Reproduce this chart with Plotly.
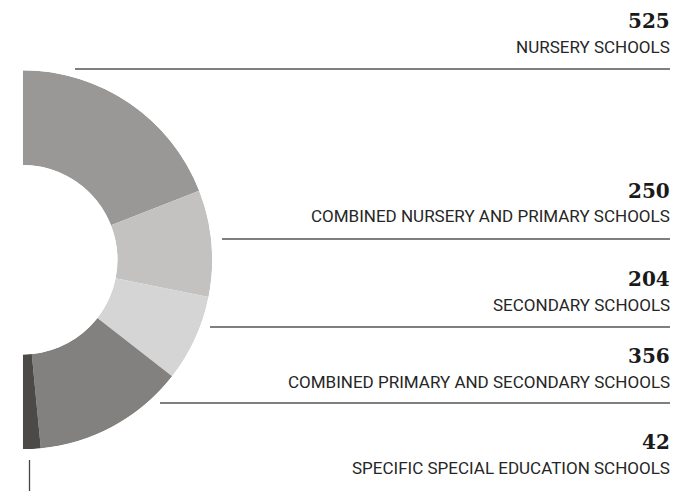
import plotly.graph_objects as go

# school counts by type, ordered clockwise from the top of the half ring
counts = [525, 250, 204, 356, 42]
labels = [
    "NURSERY SCHOOLS",
    "COMBINED NURSERY AND PRIMARY SCHOOLS",
    "SECONDARY SCHOOLS",
    "COMBINED PRIMARY AND SECONDARY SCHOOLS",
    "SPECIFIC SPECIAL EDUCATION SCHOOLS",
]
colors = ["#999896", "#c3c2c0", "#d6d5d6", "#82817f", "#4b4a48"]

W, H = 677, 491

# label layout (pixel positions, top-down)
num_y = [21, 191, 279, 356, 442]
lab_y = [47, 216, 305, 382, 468]
rule_y = [69, 239, 327, 403]
rule_x0 = [75, 222, 210, 160]

total = sum(counts)
widths = [c / total * 180 for c in counts]
centers, acc = [], 0
for w in widths:
    centers.append(acc + w / 2)
    acc += w

fig = go.Figure(go.Barpolar(
    r=[1] * len(counts), theta=centers, width=widths,
    marker=dict(color=colors, line=dict(width=0)),
    hoverinfo='skip', showlegend=False,
))

ann = []
for c, lab, yn, yl in zip(counts, labels, num_y, lab_y):
    ann.append(dict(x=672, y=yn, xref='x', yref='y', xanchor='right', yanchor='middle',
                    text=f'<b>{c}</b>', showarrow=False,
                    font=dict(family='DejaVu Serif', size=20, color='#1a1a1a')))
    ann.append(dict(x=672, y=yl, xref='x', yref='y', xanchor='right', yanchor='middle',
                    text=lab, showarrow=False,
                    font=dict(family='Roboto', size=17, color='#262626')))

shapes = [dict(type='line', xref='x', yref='y', x0=x0, x1=670, y0=y, y1=y,
               line=dict(color='#555555', width=1.3)) for x0, y in zip(rule_x0, rule_y)]
shapes.append(dict(type='line', xref='x', yref='y', x0=29.5, x1=29.5, y0=460, y1=491,
                   line=dict(color='#444444', width=1.3)))

fig.update_layout(
    width=W, height=H,
    margin=dict(l=0, r=0, t=0, b=0),
    paper_bgcolor='white', plot_bgcolor='white',
    xaxis=dict(range=[0, W], visible=False, fixedrange=True),
    yaxis=dict(range=[H, 0], visible=False, fixedrange=True),
    polar=dict(
        domain=dict(x=[22.7 / W, 212.2 / W], y=[(H - 449.5) / H, (H - 70) / H]),
        sector=[-90, 90], hole=0.5, bgcolor='white',
        radialaxis=dict(range=[0, 1], visible=False, showgrid=False, showline=False),
        angularaxis=dict(rotation=90, direction='clockwise', visible=False,
                         showgrid=False, showline=False, ticks=''),
    ),
    annotations=ann, shapes=shapes,
)

fig.write_html("out.html", config=dict(displayModeBar=False),
               post_script="document.body.style.margin='0';")
